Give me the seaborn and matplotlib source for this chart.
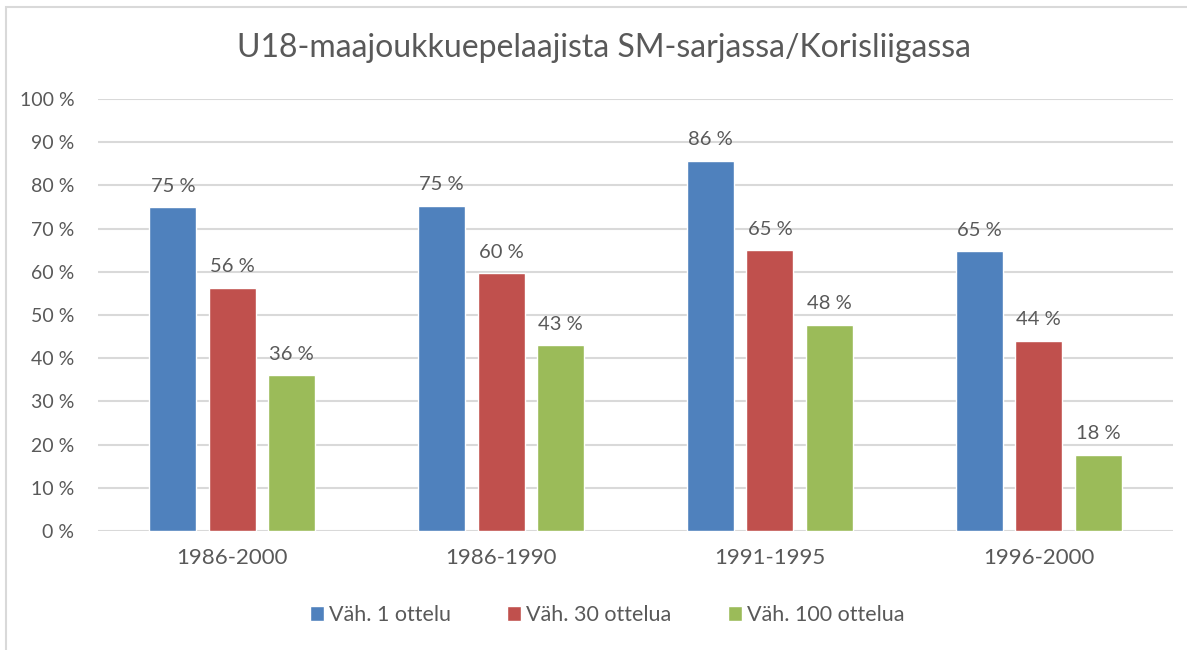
import matplotlib
matplotlib.use("Agg")
import matplotlib.pyplot as plt
import seaborn as sns
import pandas as pd
from matplotlib.patches import Rectangle

categories = ["1986-2000", "1986-1990", "1991-1995", "1996-2000"]
series_names = ["Väh. 1 ottelu", "Väh. 30 ottelua", "Väh. 100 ottelua"]
v1 = [0.75, 0.753, 0.857, 0.647]
v30 = [0.563, 0.597, 0.65, 0.44]
v100 = [0.36, 0.43, 0.477, 0.176]
labels1 = ["75 %", "75 %", "86 %", "65 %"]
labels30 = ["56 %", "60 %", "65 %", "44 %"]
labels100 = ["36 %", "43 %", "48 %", "18 %"]
yticks = [0, 0.1, 0.2, 0.3, 0.4, 0.5, 0.6, 0.7, 0.8, 0.9, 1.0]
ytick_labels = ["0 %", "10 %", "20 %", "30 %", "40 %", "50 %", "60 %", "70 %", "80 %", "90 %", "100 %"]
title = "U18-maajoukkuepelaajista SM-sarjassa/Korisliigassa"
colors = ["#4F81BD", "#C0504D", "#9BBB59"]

df = pd.DataFrame({
    "cat": categories * 3,
    "series": [series_names[0]] * 4 + [series_names[1]] * 4 + [series_names[2]] * 4,
    "val": v1 + v30 + v100,
})

sns.set_theme(style="white")
plt.rcParams["font.family"] = ["Lato", "DejaVu Sans"]
txt = "#595959"

fig = plt.figure(figsize=(11.87, 6.5), dpi=100)
ax = fig.add_axes([98 / 1187, 1 - 531 / 650, (1173 - 98) / 1187, (531 - 99) / 650])

sns.barplot(data=df, x="cat", y="val", hue="series", palette=colors,
            width=0.664, gap=0.21, ax=ax, saturation=1, legend=True)

ax.set_ylim(0, 1.0)
ax.set_xlim(-0.5, 3.5)
ax.set_yticks(yticks)
ax.set_yticklabels(ytick_labels)
ax.set_xlabel("")
ax.set_ylabel("")
for s in ax.spines.values():
    s.set_visible(False)
ax.yaxis.grid(True, color="#D9D9D9", linewidth=1.5)
ax.set_axisbelow(True)
ax.tick_params(axis="y", colors=txt, labelsize=14, length=0, pad=17)
ax.tick_params(axis="x", colors=txt, labelsize=16, length=0, pad=12)

all_labels = [labels1, labels30, labels100]
for cont, labs in zip(ax.containers, all_labels):
    ax.bar_label(cont, labels=labs, padding=9, color=txt, fontsize=14.5)

handles, lbls = ax.get_legend_handles_labels()
ax.legend_.remove()
fig.legend(handles, lbls, loc="center", bbox_to_anchor=(607 / 1187, 1 - 615 / 650),
           ncol=3, frameon=False, fontsize=15.5, labelcolor=txt,
           handlelength=0.65, handleheight=0.65, handletextpad=0.25, columnspacing=2.6)

fig.text(604 / 1187, 1 - 48 / 650, title, ha="center", va="center", fontsize=23, color=txt)

fig.patches.append(Rectangle((6 / 1187, -0.05), 1.2, (1 - 7 / 650) + 0.05,
                             transform=fig.transFigure, fill=False,
                             edgecolor="#D9D9D9", linewidth=1.5))

fig.savefig("out.png", dpi=100)
